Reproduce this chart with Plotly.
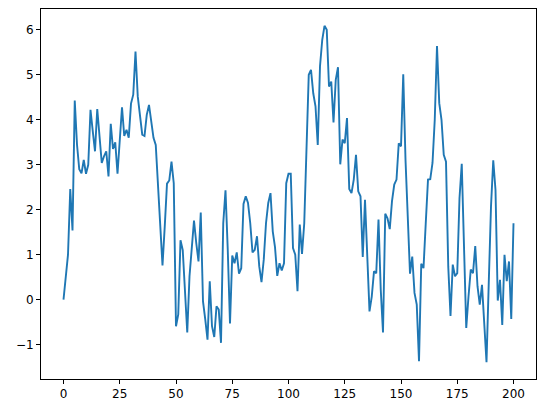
import plotly.graph_objects as go

# values, index 0..200
x_vals = list(range(201))
y_vals = [
    0.0, 0.45, 1.0, 2.46, 1.54, 4.43, 3.45, 2.9, 2.81, 3.11,
    2.8, 3.0, 4.22, 3.75, 3.3, 4.24, 3.7, 3.04, 3.19, 3.3,
    2.74, 3.91, 3.35, 3.5, 2.8, 3.55, 4.28, 3.64, 3.78, 3.6,
    4.36, 4.56, 5.52, 4.52, 4.07, 3.67, 3.64, 4.11, 4.33, 4.0,
    3.6, 3.44, 2.6, 1.5, 0.76, 1.63, 2.58, 2.65, 3.07, 2.59,
    -0.59, -0.33, 1.32, 1.1, 0.3, -0.73, 0.52, 1.19, 1.76, 1.26,
    0.85, 1.94, -0.04, -0.44, -0.89, 0.41, -0.59, -0.83, -0.15, -0.22,
    -0.96, 1.7, 2.43, 1.11, -0.53, 0.98, 0.81, 1.05, 0.58, 0.7,
    2.13, 2.3, 2.15, 1.7, 1.05, 1.11, 1.41, 0.74, 0.39, 0.89,
    1.7, 2.15, 2.37, 1.52, 1.17, 0.53, 0.81, 0.65, 0.81, 2.59,
    2.8, 2.8, 1.15, 1.0, 0.19, 1.67, 1.02, 1.7, 3.33, 5.0,
    5.11, 4.59, 4.3, 3.44, 5.19, 5.78, 6.09, 6.0, 4.74, 4.85,
    3.94, 4.89, 5.17, 3.01, 3.56, 3.48, 4.04, 2.46, 2.37, 2.67,
    3.22, 2.41, 2.3, 0.95, 2.22, 0.74, -0.26, 0.07, 0.63, 0.59,
    1.78, 0.22, -0.73, 1.91, 1.81, 1.57, 2.19, 2.56, 2.67, 3.48,
    3.41, 5.01, 3.11, 1.85, 0.58, 0.96, 0.15, -0.11, -1.37, 0.8,
    0.7, 1.7, 2.67, 2.68, 3.04, 4.0, 5.64, 4.37, 4.0, 3.22,
    3.07, 0.74, -0.36, 0.78, 0.52, 0.59, 2.26, 3.02, 1.33, -0.63,
    0.07, 0.67, 0.59, 1.19, 0.3, -0.11, 0.33, -0.48, -1.39, 0.37,
    2.07, 3.1, 2.44, -0.02, 0.44, -0.56, 1.0, 0.41, 0.85, -0.43,
    1.7,
]
x_ticks = [0, 25, 50, 75, 100, 125, 150, 175, 200]
y_ticks = [-1, 0, 1, 2, 3, 4, 5, 6]

LINE = "#1f77b4"

fig = go.Figure(go.Scatter(
    x=x_vals,
    y=y_vals,
    mode="lines",
    line=dict(color=LINE, width=1.9),
    hoverinfo="skip",
))

# matplotlib-ish axes: black frame, outside ticks, no grid
_AX = dict(
    showgrid=False,
    zeroline=False,
    showline=True,
    mirror=True,
    linecolor="black",
    linewidth=1,
    ticks="outside",
    ticklen=4,
    tickwidth=1,
    tickcolor="black",
    tickfont=dict(size=12, color="black"),
)

ymin, ymax = min(y_vals), max(y_vals)
pad = (ymax - ymin) * 0.05

# page body has an 8px margin, so the figure is shrunk by 8 to line up
fig.update_layout(
    width=538,
    height=405,
    paper_bgcolor="white",
    plot_bgcolor="white",
    font=dict(family="DejaVu Sans", color="black", size=12),
    margin=dict(l=33, r=10, t=1, b=34),
    showlegend=False,
    xaxis=dict(**_AX, range=[-10, 210], tickvals=x_ticks),
    yaxis=dict(**_AX, range=[ymin - pad, ymax + pad], tickvals=y_ticks),
)

fig.write_html("out.html")
